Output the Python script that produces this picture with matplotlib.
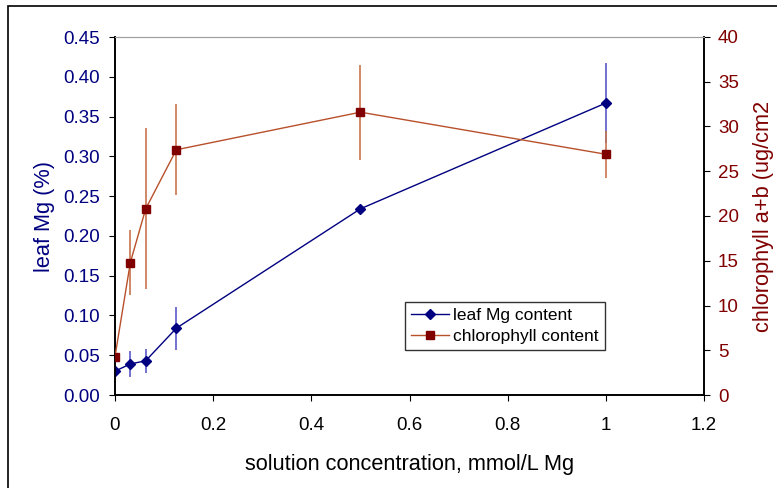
import numpy as np
import matplotlib.pyplot as plt
from matplotlib.patches import Rectangle

plt.rcParams['font.family'] = ['Liberation Sans', 'DejaVu Sans']

# solution concentration (mmol/L Mg)
conc = [0, 0.03125, 0.0625, 0.125, 0.5, 1.0]

# leaf Mg content (%) and error
mg = [0.030, 0.039, 0.043, 0.084, 0.234, 0.367]
mg_err = [0.0, 0.016, 0.015, 0.027, 0.0, 0.050]

# chlorophyll a+b (ug/cm2) and error
chl = [4.3, 14.8, 20.8, 27.4, 31.6, 26.9]
chl_err = [0.0, 3.6, 9.0, 5.1, 5.3, 2.6]

blue = '#000080'
blue_err = '#5a5ac8'
red = '#800000'
red_line = '#b8502a'
red_err = '#c8744e'

fig = plt.figure(figsize=(7.77, 4.88), dpi=100)
ax = fig.add_axes([115 / 777, 1 - 395 / 488, (704 - 115) / 777, (395 - 37) / 488])
ax2 = ax.twinx()

# outer frame like the original export
fig.patches.append(Rectangle((8 / 777, -0.1), 1.2, 1 - 6 / 488 + 0.1,
                             transform=fig.transFigure, fill=False,
                             edgecolor='black', linewidth=1.2))

ax.errorbar(conc, mg, yerr=mg_err, fmt='none', ecolor=blue_err, elinewidth=1.2, capsize=0, zorder=2)
l1, = ax.plot(conc, mg, color=blue, marker='D', markersize=5.5, linewidth=1, label='leaf Mg content', zorder=3)

ax2.errorbar(conc, chl, yerr=chl_err, fmt='none', ecolor=red_err, elinewidth=1.2, capsize=0, zorder=2)
l2, = ax2.plot(conc, chl, color=red_line, marker='s', markersize=6, markerfacecolor=red,
               markeredgecolor=red, linewidth=1, label='chlorophyll content', zorder=3)

ax.set_xlim(0, 1.2)
ax.set_ylim(0, 0.45)
ax2.set_ylim(0, 40)
ax.set_xticks(np.arange(0, 1.21, 0.2))
ax.set_xticklabels(['0', '0.2', '0.4', '0.6', '0.8', '1', '1.2'])
ax.set_yticks(np.arange(0, 0.451, 0.05))
ax.set_yticklabels([f'{v:.2f}' for v in np.arange(0, 0.451, 0.05)])
ax2.set_yticks(np.arange(0, 41, 5))

ax.tick_params(axis='y', colors='black', labelcolor=blue, labelsize=13.5, length=4.5, pad=6.5, direction='out')
ax.tick_params(axis='x', labelsize=13.5, length=4.5, pad=11, direction='out')
ax2.tick_params(axis='y', labelcolor=red, labelsize=13.5, length=4.5, pad=5.5, direction='out')

ax.set_xlabel('solution concentration, mmol/L Mg', fontsize=15.7, labelpad=15)
ax.set_ylabel('leaf Mg (%)', fontsize=15.7, color=blue, labelpad=5.5)
ax2.set_ylabel('chlorophyll a+b (ug/cm2', fontsize=15.7, color=red, labelpad=10)

for a in (ax, ax2):
    a.spines['top'].set_color('#a0a0a0')
    a.spines['left'].set_linewidth(1.2)
    a.spines['right'].set_linewidth(1.2)
    a.spines['bottom'].set_linewidth(1.2)

leg = ax2.legend(handles=[l1, l2], loc='lower left', bbox_to_anchor=(0.492, 0.126),
                 fontsize=12.5, frameon=True, fancybox=False, edgecolor='black',
                 handlelength=2.2, handletextpad=0.25, borderpad=0.35,
                 labelspacing=0.3, borderaxespad=0)
leg.get_frame().set_linewidth(1.0)

fig.savefig('out.png', dpi=100)
